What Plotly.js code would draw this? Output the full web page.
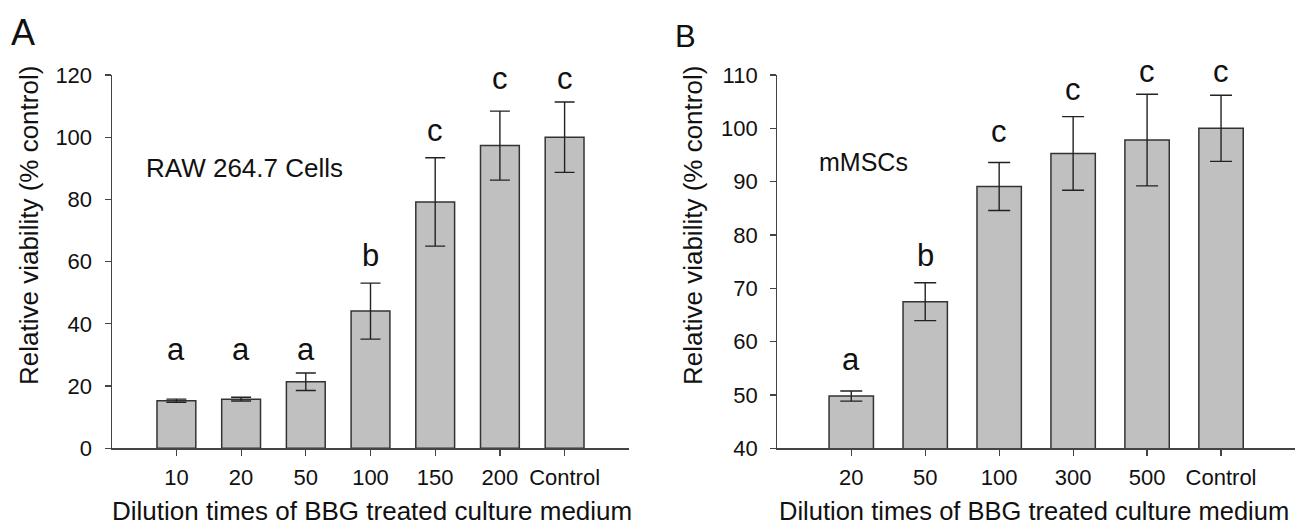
<!DOCTYPE html>
<html>
<head>
<meta charset="utf-8">
<script src="https://cdn.plot.ly/plotly-3.0.1.min.js"></script>
<style>html,body{margin:0;padding:0;background:#fff;}#chart{width:1301px;height:531px;}</style>
</head>
<body>
<div id="chart"></div>
<script>
// ---- data: panel A (RAW 264.7 cells) ----
const catsA = ['10', '20', '50', '100', '150', '200', 'Control'];
const valsA = [15.3, 15.8, 21.4, 44.1, 79.2, 97.3, 100];
const errA = [0.5, 0.6, 2.8, 9.0, 14.2, 11.1, 11.3];
const lettersA = ['a', 'a', 'a', 'b', 'c', 'c', 'c'];
const letterYA = [31.6, 31.6, 31.6, 62, 102, 119, 119];

// ---- data: panel B (mMSCs) ----
const catsB = ['20', '50', '100', '300', '500', 'Control'];
const valsB = [49.8, 67.5, 89.1, 95.3, 97.8, 100];
const errB = [0.95, 3.55, 4.5, 6.9, 8.6, 6.2];
const lettersB = ['a', 'b', 'c', 'c', 'c', 'c'];
const letterYB = [56.6, 76.2, 99.4, 107.3, 110.6, 110.6];

const xTitle = 'Dilution times of BBG treated culture medium';
const yTitle = 'Relative viability (% control)';

const FONT = 'Arial, "Liberation Sans", sans-serif';
const W = 1301, H = 531;
const px = v => v / W;
const py = v => (H - v) / H;

const barStyle = {color: '#c0c0c0', line: {color: '#333333', width: 1.5}};

const traces = [
  {type: 'bar', x: catsA, y: valsA, width: 0.6, marker: barStyle,
   error_y: {type: 'data', array: errA, visible: true, color: '#222', thickness: 1.4, width: 10},
   xaxis: 'x', yaxis: 'y', hoverinfo: 'x+y', cliponaxis: true},
  {type: 'bar', x: catsB, y: valsB, width: 0.6, marker: barStyle,
   error_y: {type: 'data', array: errB, visible: true, color: '#222', thickness: 1.4, width: 11},
   xaxis: 'x2', yaxis: 'y2', hoverinfo: 'x+y', cliponaxis: true}
];

const axisCommon = {
  showgrid: false, zeroline: false, showline: true, linecolor: '#444', linewidth: 1.2,
  ticks: 'outside', ticklen: 6, tickcolor: '#444', tickwidth: 1.2,
  tickfont: {family: FONT, size: 22, color: '#111'}, fixedrange: true
};

const yDom = [py(448.3), py(75)];
const rangeA = [0, 120], rangeB = [40, 110];
// data value -> paper y (so letters above the axis range are still drawn)
const toPaper = (v, r) => yDom[0] + (v - r[0]) / (r[1] - r[0]) * (yDom[1] - yDom[0]);

const layout = {
  width: W, height: H, margin: {l: 0, r: 0, t: 0, b: 0},
  paper_bgcolor: '#fff', plot_bgcolor: '#fff', showlegend: false,
  font: {family: FONT, color: '#111'},
  xaxis: Object.assign({}, axisCommon, {domain: [px(111.7), px(629.3)], range: [-1, 7], type: 'category', anchor: 'y', ticklabelstandoff: 3}),
  yaxis: Object.assign({}, axisCommon, {domain: yDom, range: rangeA, dtick: 20, anchor: 'x', ticklabelstandoff: 8}),
  xaxis2: Object.assign({}, axisCommon, {domain: [px(777.3), px(1295)], range: [-1, 6], type: 'category', anchor: 'y2', ticklabelstandoff: 3}),
  yaxis2: Object.assign({}, axisCommon, {domain: yDom, range: rangeB, dtick: 10, anchor: 'x2', ticklabelstandoff: 8}),
  annotations: []
};

const ann = layout.annotations;
// significance letters, positioned by category index
catsA.forEach((c, i) => ann.push({xref: 'x', yref: 'paper', x: i, y: toPaper(letterYA[i], rangeA), text: lettersA[i], showarrow: false,
  xanchor: 'center', yanchor: 'middle', font: {family: FONT, size: 31, color: '#111'}}));
catsB.forEach((c, i) => ann.push({xref: 'x2', yref: 'paper', x: i, y: toPaper(letterYB[i], rangeB), text: lettersB[i], showarrow: false,
  xanchor: 'center', yanchor: 'middle', font: {family: FONT, size: 31, color: '#111'}}));

// panel labels
ann.push({xref: 'paper', yref: 'paper', x: px(23), y: py(33), text: 'A', showarrow: false, xanchor: 'center', yanchor: 'middle', font: {family: FONT, size: 36, color: '#111'}});
ann.push({xref: 'paper', yref: 'paper', x: px(686), y: py(36), text: 'B', showarrow: false, xanchor: 'center', yanchor: 'middle', font: {family: FONT, size: 31, color: '#111'}});

// cell-type labels
ann.push({xref: 'x', yref: 'y', x: 1.05, y: 90.1, text: 'RAW 264.7 Cells', showarrow: false, xanchor: 'center', yanchor: 'middle', font: {family: FONT, size: 26, color: '#111'}});
ann.push({xref: 'x2', yref: 'y2', x: 0.17, y: 93.7, text: 'mMSCs', showarrow: false, xanchor: 'center', yanchor: 'middle', font: {family: FONT, size: 25, color: '#111'}});

// axis titles
ann.push({xref: 'paper', yref: 'paper', x: px(372), y: py(511), text: xTitle, showarrow: false, xanchor: 'center', yanchor: 'middle', font: {family: FONT, size: 26, color: '#111'}});
ann.push({xref: 'paper', yref: 'paper', x: px(1034), y: py(511), text: xTitle, showarrow: false, xanchor: 'center', yanchor: 'middle', font: {family: FONT, size: 25.5, color: '#111'}});
ann.push({xref: 'paper', yref: 'paper', x: px(29), y: py(226), text: yTitle, textangle: -90, showarrow: false, xanchor: 'center', yanchor: 'middle', font: {family: FONT, size: 26, color: '#111'}});
ann.push({xref: 'paper', yref: 'paper', x: px(693), y: py(226), text: yTitle, textangle: -90, showarrow: false, xanchor: 'center', yanchor: 'middle', font: {family: FONT, size: 26, color: '#111'}});

Plotly.newPlot('chart', traces, layout, {displayModeBar: false, staticPlot: true});
</script>
</body>
</html>
